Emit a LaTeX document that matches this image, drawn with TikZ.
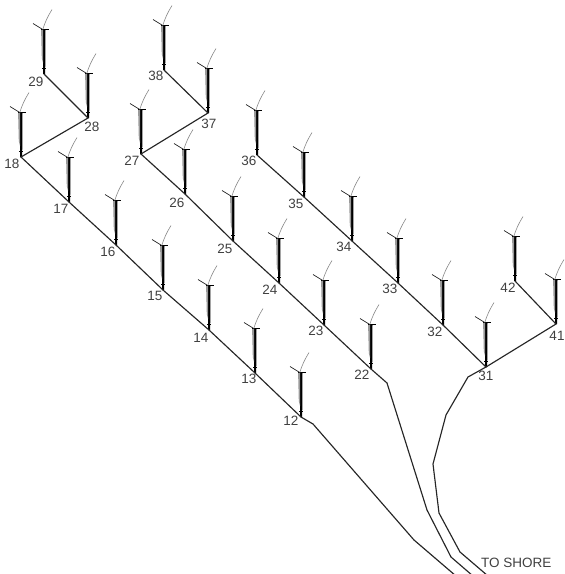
\documentclass[tikz,border=0pt]{standalone}
\usepackage{fontspec}
\setmainfont{Liberation Sans}
\usetikzlibrary{positioning}
\definecolor{blade}{HTML}{8A8A8A}
\begin{document}
\begin{tikzpicture}[
  x=1pt, y=-1pt,
  cable/.style={draw=black!85, line width=1.15pt},
  tag/.style={font=\fontsize{13.5}{15}\selectfont, text=black!75, inner sep=0pt},
  turbine/.pic={
    % tower
    \fill[black] (-0.9,0) -- (-1.2,-44) -- (1.5,-44) -- (1.2,0) -- cycle;
    \fill[black] (-2.2,-6.5) rectangle (2.2,-5.7);
    \fill[black!40] (-2.9,-44) -- (-0.8,-44) -- (-1,-11) -- (-2.2,-16) -- cycle;
    % hub and blades
    \draw[black, line width=1.2pt] (-3,-44.3) -- (5,-44.3);
    \draw[black!85, line width=0.7pt] (-11,-50.5) -- (-1.2,-44.5);
    \draw[blade, line width=0.6pt] (-1.2,-44.5) .. controls (1,-52) and (4,-58) .. (8,-64.5);
  }
]
  \useasboundingbox (0,0) rectangle (565,574);
  \clip (0,0) rectangle (565,574);

  % Turbines, with their numbers
  \foreach \id/\px/\py/\lx/\ly in {
    29/44/74/36/82, 28/88/118/92/127, 18/21/157/12/164, 17/69/202/61/209,
    16/116/245/108/252, 15/163/290/155/296, 14/209/330/201/338,
    13/255/373/249/379, 12/301/417/291/421,
    38/164/70/156/76, 37/208/113/209/124, 27/141/154/132/161, 26/185/194/177/203,
    25/233/241/225/249, 24/279/283/270/290, 23/324/325/316/331, 22/371/369/362/375,
    36/257/155/249/161, 35/304/197/296/204, 34/352/241/344/247, 33/398/283/390/289,
    32/443/325/435/332, 31/486/367/486/376, 41/556/324/557/336, 42/515/281/508/288
  }{
    \coordinate (t\id) at (\px,\py);
    \pic at (t\id) {turbine};
    \node[tag] (n\id) at (\lx,\ly) {\id};
  }

  % Free ends of the export cables
  \coordinate (a1) at (313,424);
  \coordinate (a2) at (414,540);
  \coordinate (a3) at (456,576);
  \coordinate (b1) at (387,383);
  \coordinate (b2) at (427,510);
  \coordinate (b3) at (451,557);
  \coordinate (b4) at (473,576);
  \coordinate (c1) at (468,377);
  \coordinate (c2) at (446,415);
  \coordinate (c3) at (433,464);
  \coordinate (c4) at (439,513);
  \coordinate (c5) at (460,552);
  \coordinate (c6) at (488,576);

  % Strings
  \draw[cable] (t29) -- (t28) -- (t18) -- (t17) -- (t16) -- (t15) -- (t14) -- (t13) -- (t12)
    -- (a1) -- (a2) -- (a3);
  \draw[cable] (t38) -- (t37) -- (t27) -- (t26) -- (t25) -- (t24) -- (t23) -- (t22)
    -- (b1) -- (b2) -- (b3) -- (b4);
  \draw[cable] (t36) -- (t35) -- (t34) -- (t33) -- (t32) -- (t31)
    -- (c1) -- (c2) -- (c3) -- (c4) -- (c5) -- (c6);
  \draw[cable] (t42) -- (t41) -- (t31);

  \node[tag, anchor=west] (shore) at (481,563) {TO SHORE};
\end{tikzpicture}
\end{document}
